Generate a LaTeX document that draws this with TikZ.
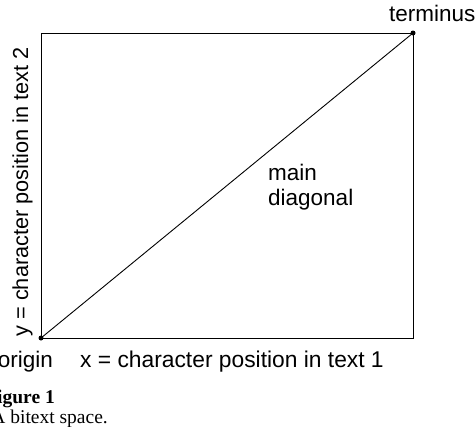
\documentclass[tikz,border=0pt]{standalone}
\usepackage{fontspec}
\setmainfont{Liberation Sans}
\newfontfamily\capfont{Liberation Serif}
\begin{document}
\begin{tikzpicture}[x=1pt,y=-1pt,
  lbl/.style={inner sep=0pt,font=\fontsize{22.5}{26}\selectfont},
  captxt/.style={inner sep=0pt,font=\capfont\fontsize{19.5}{21}\selectfont},
  dot/.style={circle,fill=black,inner sep=0pt,minimum size=5pt}]
\useasboundingbox (0,0) rectangle (476,426);
\fill[white] (0,0) rectangle (476,426);
\coordinate (bl) at (41,338);
\coordinate (tr) at (413,33);
\draw[line width=0.9pt] (bl) rectangle (tr);
\node[dot] (origin) at (bl) {};
\node[dot] (terminus) at (tr) {};
\draw[line width=0.9pt] (origin.center) -- (terminus.center);
\node[lbl,anchor=base west] (tlab) at (389,21) {terminus};
\node[lbl,anchor=base east] (olab) at (53,367) {origin};
\node[lbl,anchor=base west,font=\fontsize{22.8}{26}\selectfont] (xlab) at (80,367) {x = character position in text 1};
\node[lbl,anchor=base,rotate=90,font=\fontsize{21.7}{26}\selectfont] (ylab) at (28,192) {y = character position in text 2};
\node[lbl,anchor=base west] (mlab) at (268,180) {main};
\node[lbl,anchor=base west] (dlab) at (268,205) {diagonal};
\node[captxt,anchor=base east] (fig) at (55,403) {\bfseries Figure 1};
\node[captxt,anchor=base east] (cap2) at (108,423) {A bitext space.};
\end{tikzpicture}
\end{document}
